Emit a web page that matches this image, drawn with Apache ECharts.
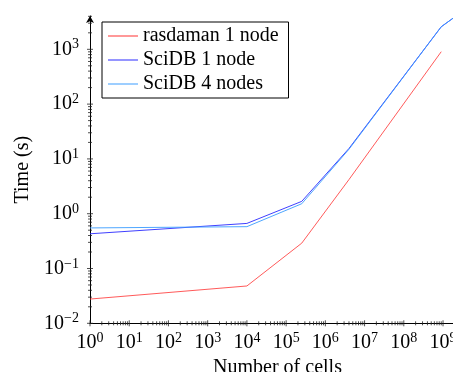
<!DOCTYPE html>
<html>
<head>
<meta charset="utf-8">
<script src="https://cdn.jsdelivr.net/npm/echarts@6/dist/echarts.min.js"></script>
<style>
html, body { margin: 0; padding: 0; background: #fff; }
#container { width: 453px; height: 372px; }
</style>
</head>
<body>
<div id="container"></div>
<script>
// data
var cells = [1, 1e4, 2.5e5, 4e6, 9e8, 1e10];
var rasdaman1 = [0.0277, 0.048, 0.29, 4.2, 905];
var scidb1 = [0.43, 0.665, 1.68, 15.5, 2580, 9000];
var scidb4 = [0.55, 0.58, 1.52, 15.0, 2580, 9000];
var seriesNames = ['rasdaman 1 node', 'SciDB 1 node', 'SciDB 4 nodes'];

// axis decades + minor steps (tick positions)
var xDecades = [0, 1, 2, 3, 4, 5, 6, 7, 8, 9];
var yDecades = [-2, -1, 0, 1, 2, 3];
var minorSteps = [2, 3, 4, 5, 6, 7, 8, 9];

var xMin = 1, xMax = Math.pow(10, 9.56);
var yMin = 0.01, yMax = Math.pow(10, 3.608);
var font = "'Liberation Serif', 'Times New Roman', serif";

function pairs(xs, ys) {
	var out = [];
	for (var i = 0; i < ys.length; i++) out.push([xs[i], ys[i]]);
	return out;
}

function decadeTicks(decades, maxV) {
	var out = [];
	decades.forEach(function(k) {
		var base = Math.pow(10, k);
		out.push([base, 1]);
		minorSteps.forEach(function(m) {
			if (m * base <= maxV) out.push([m * base, 0]);
		});
	});
	return out;
}

var xTicks = decadeTicks(xDecades, xMax).map(function(t) { return [t[0], yMin, t[1]]; });
var yTicks = decadeTicks(yDecades, yMax).map(function(t) { return [xMin, t[0], t[1]]; });

function powLabel(v) {
	var e = Math.log10(v);
	var r = Math.round(e);
	if (Math.abs(e - r) > 1e-6) return '';
	return '10{sup|' + (r < 0 ? '\u2212' + (-r) : r) + '}';
}

function tickSeries(data, vertical) {
	return {
		type: 'custom',
		silent: true,
		clip: false,
		z: 5,
		data: data,
		renderItem: function(params, api) {
			var p = api.coord([api.value(0), api.value(1)]);
			var len = api.value(2) ? 3 : 2;
			var shape = vertical
				? { x1: p[0], y1: p[1] - len, x2: p[0], y2: p[1] + len }
				: { x1: p[0] - len, y1: p[1], x2: p[0] + len, y2: p[1] };
			return { type: 'line', shape: shape, style: { stroke: '#222', lineWidth: 0.8 } };
		}
	};
}

var labelStyle = {
	color: '#000',
	fontFamily: font,
	fontSize: 20,
	formatter: powLabel,
	rich: {
		sup: { fontSize: 14, fontFamily: font, color: '#000', padding: [0, 0, 9, 0] }
	}
};

var dom = document.getElementById('container');
var myChart = echarts.init(dom, null, { renderer: 'canvas' });

var option = {
	animation: false,
	backgroundColor: '#fff',
	textStyle: { fontFamily: font },
	grid: { left: 90, right: -12, top: 16, bottom: 48.7, outerBoundsMode: 'none', containLabel: false },
	legend: {
		data: seriesNames,
		orient: 'vertical',
		left: 102,
		top: 22,
		padding: [4, 10, 4, 6],
		itemGap: 4,
		itemWidth: 30,
		itemHeight: 1,
		itemTextGap: 7,
		icon: 'rect',
		borderColor: '#000',
		borderWidth: 1,
		borderRadius: 0,
		backgroundColor: '#fff',
		textStyle: { color: '#000', fontFamily: font, fontSize: 20 }
	},
	xAxis: {
		type: 'log',
		logBase: 10,
		min: xMin,
		max: xMax,
		splitNumber: 10,
		name: 'Number of cells',
		nameLocation: 'middle',
		nameGap: 33,
		nameTextStyle: { color: '#000', fontFamily: font, fontSize: 20 },
		axisLine: { show: true, lineStyle: { color: '#000', width: 1 } },
		axisTick: { show: false },
		minorTick: { show: false },
		splitLine: { show: false },
		axisLabel: Object.assign({ margin: 8, hideOverlap: false }, labelStyle)
	},
	yAxis: {
		type: 'log',
		logBase: 10,
		min: yMin,
		max: yMax,
		splitNumber: 6,
		name: 'Time (s)',
		nameLocation: 'middle',
		nameGap: 54,
		nameTextStyle: { color: '#000', fontFamily: font, fontSize: 20 },
		axisLine: { show: true, symbol: ['none', 'arrow'], symbolSize: [6, 7], lineStyle: { color: '#000', width: 1 } },
		axisTick: { show: false },
		minorTick: { show: false },
		splitLine: { show: false },
		axisLabel: Object.assign({ margin: 11, hideOverlap: false }, labelStyle)
	},
	series: [{
		name: seriesNames[0],
		type: 'line',
		symbol: 'none',
		data: pairs(cells, rasdaman1),
		lineStyle: { color: '#ff3030', width: 0.8 },
		itemStyle: { color: '#ff3030' }
	}, {
		name: seriesNames[1],
		type: 'line',
		symbol: 'none',
		data: pairs(cells, scidb1),
		lineStyle: { color: '#2a2aff', width: 0.9 },
		itemStyle: { color: '#2a2aff' }
	}, {
		name: seriesNames[2],
		type: 'line',
		symbol: 'none',
		data: pairs(cells, scidb4),
		lineStyle: { color: '#3a9cff', width: 0.9 },
		itemStyle: { color: '#3a9cff' }
	},
	tickSeries(xTicks, true),
	tickSeries(yTicks, false)]
};

if (option && typeof option === "object") {
	myChart.setOption(option, true);
}
</script>
</body>
</html>
